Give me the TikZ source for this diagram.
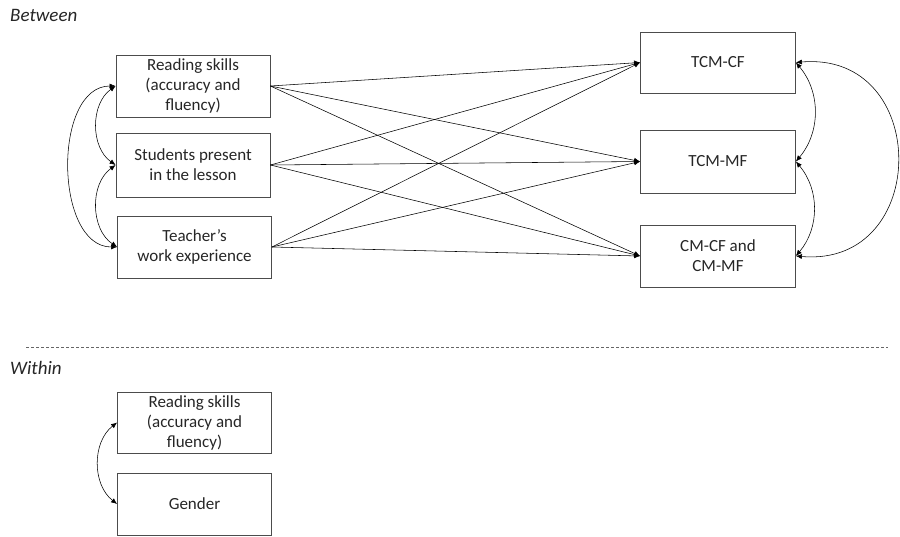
\documentclass[tikz,border=0pt]{standalone}
\usepackage{fontspec}
\setmainfont{Carlito}
\usetikzlibrary{arrows.meta}
\tikzset{
    var/.style={draw=black!70, text=black!85, line width=0.8pt, minimum width=154pt, minimum height=62pt, inner sep=0pt, align=center, font=\fontsize{17}{20}\selectfont}, % 变量方框
    reg/.style={-{Latex[length=6pt,width=5pt]}, line width=0.55pt}, % 回归路径
    cov/.style={{Latex[length=6pt,width=5pt]}-{Latex[length=6pt,width=5pt]}, line width=0.55pt}, % 相关
    level/.style={anchor=west, font=\fontsize{19}{21}\selectfont\itshape, text=black!85, inner sep=0pt} % 层级标签
}

\begin{document}
\begin{tikzpicture}[x=1pt, y=-1pt]
            \useasboundingbox (0,0) rectangle (900,536);

            \node[level] (between) at (10,15) {Between};
            \node[level] (within) at (10,368) {Within};
            \draw[black!60, dash pattern=on 3pt off 2pt, line width=0.6pt] (26,347) -- (888,347);

            % between level
            \node[var] (rs) at (193,86) {Reading skills\\(accuracy and\\fluency)};
            \node[var, minimum height=64pt] (sp) at (193,165) {Students present\\in the lesson};
            \node[var] (te) at (194.5,247) {Teacher’s\\work experience};

            \node[var, minimum width=155pt, minimum height=61pt] (cf) at (718,62.5) {TCM-CF};
            \node[var, minimum width=155pt, minimum height=63pt] (mf) at (718,161.5) {TCM-MF};
            \node[var, minimum width=155pt] (cm) at (718,256) {CM-CF and\\CM-MF};

            \foreach \s in {rs,sp,te} {\foreach \t in {cf,mf,cm} {\draw[reg] (\s.east) -- (\t.west);}}

            \draw[cov] (rs.west) to[bend right=55] (sp.west);
            \draw[cov] (sp.west) to[bend right=55] (te.west);
            \draw[cov] (rs.west) to[out=180, in=180] (te.west);

            \draw[cov] (cf.east) to[bend left=40] (mf.east);
            \draw[cov] (mf.east) to[bend left=40] (cm.east);
            \draw[cov] (cf.east) to[out=5, in=-5, looseness=1.8] (cm.east);

            % within level
            \node[var, minimum height=61pt] (wrs) at (194.5,422.5) {Reading skills\\(accuracy and\\fluency)};
            \node[var] (gen) at (194.5,504) {Gender};
            \draw[cov] (wrs.west) to[bend right=52] (gen.west);
        \end{tikzpicture}
\end{document}
